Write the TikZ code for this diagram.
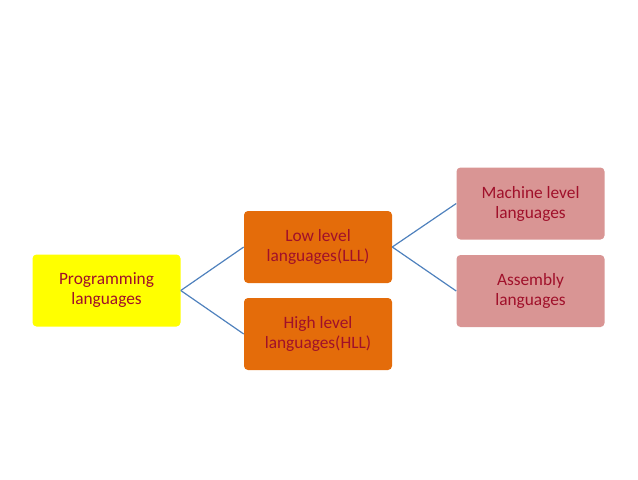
\documentclass[tikz,border=0pt]{standalone}
\usepackage{fontspec}
\setmainfont{Carlito}
\usetikzlibrary{positioning}
\definecolor{boxtext}{HTML}{A0102A}
\definecolor{rootfill}{HTML}{FFFF00}
\definecolor{midfill}{HTML}{E46C0A}
\definecolor{leaffill}{HTML}{D99594}
\definecolor{linkblue}{HTML}{4F81BD}
\tikzset{
    box/.style={rounded corners=3pt,minimum width=111pt,minimum height=54pt,
        align=center,text=boxtext,font=\fontsize{13}{15}\selectfont,inner sep=1pt},
    link/.style={draw=linkblue,line width=0.9pt}
}
\begin{document}
\begin{tikzpicture}[x=0.75pt,y=-0.75pt]
    \useasboundingbox (0,0) rectangle (638,479);
    % Root and branches
    \node[box,fill=rootfill] (prog) at (106.5,290.5) {Programming\\languages};
    \node[box,fill=midfill] (low) at (318,247) {Low level\\languages(LLL)};
    \node[box,fill=midfill] (high) at (318,334) {High level\\languages(HLL)};
    \node[box,fill=leaffill] (mach) at (530.5,203.5) {Machine level\\languages};
    \node[box,fill=leaffill] (asm) at (530.5,291) {Assembly\\languages};

    % Connectors
    \draw[link] (prog.east) -- (low.west);
    \draw[link] (prog.east) -- (high.west);
    \draw[link] (low.east) -- (mach.west);
    \draw[link] (low.east) -- (asm.west);
\end{tikzpicture}
\end{document}
